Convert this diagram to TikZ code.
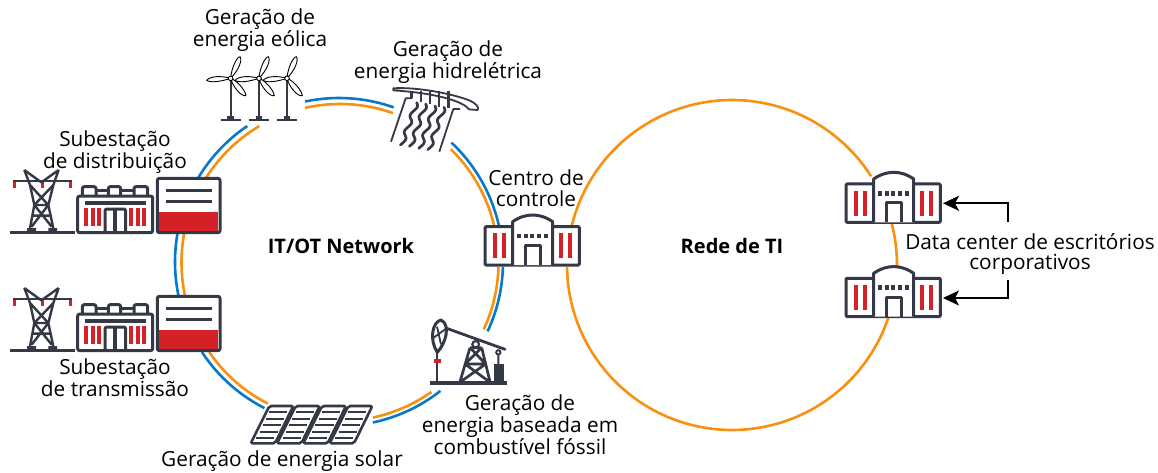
\documentclass[tikz,border=0pt]{standalone}
\usepackage{fontspec}
\setmainfont{Open Sans}
\usetikzlibrary{arrows.meta}
\definecolor{ink}{HTML}{353845}
\definecolor{fire}{HTML}{D42027}
\definecolor{ora}{HTML}{F9900F}
\definecolor{blu}{HTML}{0679CC}
\tikzset{
 x=1pt,y=-1pt,
 lbl/.style={align=center,text=black,font=\fontsize{20.8}{20.4}\selectfont,inner sep=0pt},
 blbl/.style={text=black,font=\fontsize{20}{20}\selectfont\bfseries,inner sep=0pt},
 wire/.style={line width=2.6pt},
 oline/.style={wire,draw=ora},
 bline/.style={wire,draw=blu},
 ik/.style={draw=ink,line width=3pt,line join=round},
 iks/.style={draw=ink,line width=1.8pt,line join=round},
 redb/.style={fill=fire,draw=none},
 darkb/.style={fill=ink,draw=none},
 blade/.style={draw=black,fill=white,line width=.9pt,line join=round},
 zoomed/.style={x=.33333pt,y=-.33333pt},
 call/.style={draw=black,line width=2.2pt,-{Stealth[length=16pt,width=15pt,inset=4pt]}}
}
% \ring{style}{cx}{cy}{r}{from}{to}
\newcommand{\ring}[6]{\draw[#1] plot[smooth,domain=#5:#6,samples=40] ({#2+#4*cos(\x)},{#3-#4*sin(\x)});}
\newcommand{\orr}[2]{\ring{oline}{340}{262.5}{158.5}{#1}{#2}}
\newcommand{\blr}[2]{\ring{bline}{339}{262}{164}{#1}{#2}}
\newcommand{\hall}[2]{%
\begin{scope}[shift={(#1,#2)},zoomed]
 \draw[ik,fill=white,rounded corners=1pt] (195,170) rectangle (478,285);
 \draw[ik,fill=white] (278,285) -- (278,155) .. controls (300,140) and (320,135) .. (338,135) .. controls (356,135) and (376,140) .. (398,155) -- (398,285);
 \foreach \q in {219,245,417,443}{\fill[redb] (\q,190) rectangle ++(12,75);}
 \foreach \q in {291,311,331,351,371}{\fill[darkb] (\q,191) rectangle ++(12,14);}
 \draw[ik] (315,285) -- (315,227) -- (360,227) -- (360,285);
\end{scope}}
\newcommand{\substation}[1]{%
\begin{scope}[shift={(0,#1)}]
\begin{scope}[shift={(0,120)},zoomed]
 % tower
 \draw[draw=ink,line width=3pt] (30,337) -- (225,337);
 \draw[draw=ink,line width=2.4pt] (40,183) -- (215,183);
 \foreach \q in {40,123,207}{\fill[redb] (\q,187) rectangle ++(9,16);}
 \draw[draw=ink,line width=2.4pt,line join=round]
   (73,150) -- (90,195) -- (103,255) -- (90,325)
   (176,150) -- (160,195) -- (145,255) -- (160,325)
   (73,150) -- (124,187) -- (176,150)
   (90,195) -- (145,255) (160,195) -- (103,255)
   (103,255) -- (155,320) (145,255) -- (95,320)
   (103,255) -- (145,255) (98,287) -- (152,287);
 \fill[darkb] (81,324) rectangle (108,335) (145,324) rectangle (171,335);
 % hall
 \draw[ik] (288,212) -- (325,212) (362,212) -- (402,212);
 \draw[ik,fill=white,rounded corners=2pt] (247,230) -- (247,200) -- (288,200) -- (288,230);
 \draw[ik,fill=white,rounded corners=2pt] (325,230) -- (325,200) -- (362,200) -- (362,230);
 \draw[ik,fill=white,rounded corners=2pt] (402,230) -- (402,200) -- (443,200) -- (443,230);
 \draw[ik,fill=white,rounded corners=2pt] (233,228) rectangle (458,338);
 \fill[darkb] (255,243) rectangle (438,255);
 \foreach \q in {252,274,290,387,408,426}{\fill[redb] (\q,264) rectangle ++(12,54);}
 \draw[ik,rounded corners=2pt] (315,338) -- (315,267) -- (377,267) -- (377,338);
 \fill[darkb] (340,267) rectangle (351,338);
 % box
 \draw[ik,fill=white,rounded corners=2pt] (472,175) rectangle (660,338);
 \fill[redb] (477,277) rectangle (655,334);
 \draw[draw=ink,line width=2.8pt] (498,212) -- (636,212) (498,244) -- (636,244);
\end{scope}
\end{scope}}
\newcommand{\turbine}[1]{%
\begin{scope}[shift={(#1,235)}]
 \draw[draw=ink,line width=2.2pt] (0,0) -- (0,122);
 \draw[draw=ink,line width=1.8pt] (-30,124) -- (30,124);
 \fill[darkb] (-10,114) rectangle (10,122);
 \draw[blade] (0,0) .. controls (2,-30) and (18,-64) .. (28,-65) .. controls (36,-55) and (24,-25) .. (0,0);
 \draw[blade] (0,0) .. controls (-30,-9) and (-62,-6) .. (-72,6) .. controls (-60,14) and (-30,10) .. (0,0);
 \draw[blade] (0,0) .. controls (18,6) and (44,35) .. (46,52) .. controls (32,56) and (6,25) .. (0,0);
 \draw[blade] (0,0) circle[radius=7];
\end{scope}}
\begin{document}
\begin{tikzpicture}
\useasboundingbox (0,0) rectangle (1158,472);
\fill[white] (0,0) rectangle (1158,472);
% left ring
\orr{-78}{-54.8}\blr{-78.1}{-51.8}
\orr{-24.9}{-1.6}\blr{-25}{-1.7}
\orr{13.7}{45.6}\blr{13}{46.7}
\orr{70.5}{102.7}\blr{70.5}{101.9}
\orr{120.6}{147.6}\blr{124}{148.9}
\orr{169.3}{191.8}\blr{169.8}{191.6}
\orr{214.4}{242.9}\blr{213.3}{243}
% right ring
\ring{oline}{732}{265}{165}{32.5}{166}
\ring{oline}{732}{265}{165}{-0.7}{14.7}
\ring{oline}{732}{265}{165}{-179.3}{-18.5}
% substations
\substation{0}
\substation{118}
% turbines
\begin{scope}[shift={(190,0)},zoomed]
 \turbine{122}\turbine{207}\turbine{291}
\end{scope}
% hydro
\begin{scope}[shift={(385,80)},zoomed]
 \draw[iks,fill=white] (25,25) .. controls (90,20) and (200,40) .. (255,62) .. controls (272,70) and (284,82) .. (278,90) -- (252,88) .. controls (235,65) and (160,40) .. (25,31) -- cycle;
 \foreach \q/\e in {80/55,108/65,135/72,162/80,190/85}{\draw[draw=ink,line width=2.8pt] (\q,32) -- (\q,\e);}
 \draw[iks] (82,55) -- (62,55) -- (18,185);
 \draw[iks] (225,87) -- (205,87) -- (163,215);
 \foreach \q/\r in {95/68,122/72,150/78,177/82}{
  \draw[draw=ink,line width=2.7pt,line cap=round] plot[smooth,domain=0:1,samples=30] ({\q-45*\x+6.5*sin(360*2.6*\x)},{\r+127*\x});}
\end{scope}
% oil
\begin{scope}[shift={(425,315)},zoomed]
 \draw[draw=ink,line width=3.8pt] (15,205) -- (245,205);
 \draw[draw=ink,line width=2.2pt] (37,110) -- (37,200);
 \fill[redb] (27,132) rectangle (48,143);
 \draw[draw=ink,line width=2.8pt,line cap=round] (65,40) -- (240,103);
 \draw[ik,fill=white] (48,15) .. controls (22,20) and (12,75) .. (37,112) .. controls (62,85) and (78,30) .. (48,15) -- cycle;
 \draw[iks] (26,68) -- (62,42) (36,35) -- (48,88);
 \draw[draw=ink,line width=2.2pt] (152,88) circle[radius=10];
 \draw[draw=ink,line width=2.7pt] (135,98) -- (105,200) (170,98) -- (195,200)
   (135,98) -- (170,98) (120,147) -- (182,147)
   (135,98) -- (182,147) (170,98) -- (120,147)
   (120,147) -- (190,198) (182,147) -- (110,198);
 \draw[draw=ink,line width=1.9pt] (220,112) circle[radius=6.5] (220,119) -- (220,148);
 \fill[darkb] (207,148) rectangle (237,205);
\end{scope}
% solar
\begin{scope}[shift={(230,380)},zoomed]
 \foreach \d in {0,79,158,237}{
  \begin{scope}[shift={(\d,0)}]
  \draw[ik,fill=white,line width=2.6pt,rounded corners=2pt] (118,78) -- (190,78) -- (135,190) -- (62,190) -- cycle;
  \foreach \sy in {97,116,136,155,175}{
   \pgfmathsetmacro{\lx}{118-(\sy-78)*.5+9}
   \pgfmathsetmacro{\rx}{190-(\sy-78)*.49-9}
   \draw[draw=ink,line width=2.2pt] (\lx,\sy) -- (\rx,\sy);}
  \end{scope}}
\end{scope}
% buildings
\hall{420}{170}
\hall{781}{127.3}
\hall{781}{221.6}
% labels
\node[lbl] (wind) at (260,30.5) {Geração de\\energia eólica};
\node[lbl] (hydro) at (448,62) {Geração de\\energia hidrelétrica};
\node[lbl] (dist) at (115,152) {Subestação\\de distribuição};
\node[lbl] (trans) at (115,378) {Subestação\\de transmissão};
\node[lbl] (ctrl) at (536,188) {Centro de\\controle};
\node[lbl] (fossil) at (520,425) {Geração de\\energia baseada em\\combustível fóssil};
\node[lbl] (solar) at (282,461) {Geração de energia solar};
\node[lbl] (dc) at (1030,254) {Data center de escritórios\\corporativos};
\node[blbl] (itot) at (341,246) {IT/OT Network};
\node[blbl] (ti) at (732,246) {Rede de TI};
% data centre callouts
\coordinate (dcup) at (1007.7,221.7);
\coordinate (dcdown) at (1007.7,280);
\coordinate (hallup) at (943,203.3);
\coordinate (halldown) at (943,298);
\draw[call] (dcup) |- (hallup);
\draw[call] (dcdown) |- (halldown);
\end{tikzpicture}
\end{document}
